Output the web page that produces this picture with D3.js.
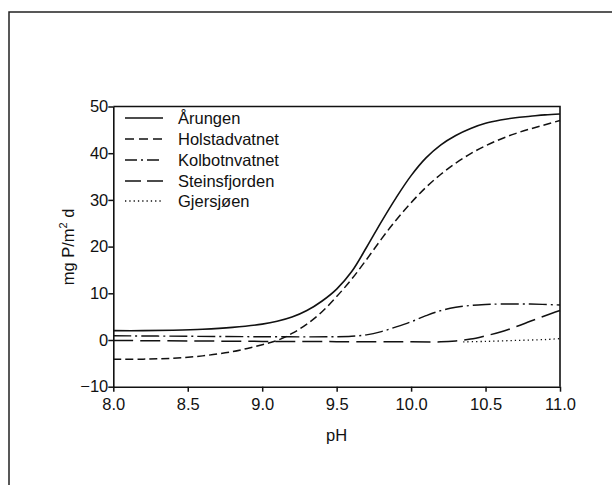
<!DOCTYPE html>
<html><head><meta charset="utf-8">
<script src="https://cdn.jsdelivr.net/npm/d3@7"></script>
<style>
html,body{margin:0;padding:0;background:#fff;}
svg{display:block;font-family:"Liberation Sans",Arial,Helvetica,sans-serif;}
</style></head>
<body>
<svg id="chart" width="612" height="485"></svg>
<script>
// ---- data ----
const xTicks = [8.0, 8.5, 9.0, 9.5, 10.0, 10.5, 11.0];
const yTicks = [-10, 0, 10, 20, 30, 40, 50];
const seriesNames = ["Årungen", "Holstadvatnet", "Kolbotnvatnet", "Steinsfjorden", "Gjersjøen"];

const arungenPH  = [8.0, 8.2, 8.4, 8.6, 8.8, 9.0, 9.1, 9.2, 9.3, 9.4, 9.5, 9.6, 9.7, 9.8, 9.9, 10.0, 10.1, 10.2, 10.3, 10.4, 10.5, 10.6, 10.7, 10.8, 10.9, 11.0];
const arungenVal = [2.0, 2.0, 2.1, 2.3, 2.7, 3.4, 4.0, 4.9, 6.3, 8.3, 10.9, 14.6, 19.8, 25.3, 30.5, 35.2, 39.0, 41.8, 43.8, 45.3, 46.4, 47.1, 47.6, 47.9, 48.2, 48.4];

const holstadPH  = [8.0, 8.2, 8.4, 8.6, 8.8, 8.9, 9.0, 9.1, 9.2, 9.3, 9.4, 9.5, 9.6, 9.7, 9.8, 9.9, 10.0, 10.1, 10.2, 10.3, 10.4, 10.5, 10.6, 10.7, 10.8, 10.9, 11.0];
const holstadVal = [-4.1, -4.1, -3.9, -3.4, -2.5, -1.8, -1.0, -0.1, 1.4, 3.4, 6.0, 9.3, 13.0, 17.2, 21.6, 25.7, 29.4, 32.7, 35.5, 37.9, 39.9, 41.6, 43.0, 44.2, 45.2, 46.1, 47.0];

const kolbotnPH  = [8.0, 8.5, 9.0, 9.5, 9.6, 9.7, 9.8, 9.9, 10.0, 10.1, 10.2, 10.3, 10.4, 10.5, 10.6, 10.8, 11.0];
const kolbotnVal = [0.9, 0.8, 0.7, 0.7, 0.8, 1.1, 1.8, 2.8, 3.9, 5.2, 6.3, 7.0, 7.4, 7.6, 7.7, 7.7, 7.5];

const steinsPH  = [8.0, 8.5, 9.0, 9.5, 10.0, 10.2, 10.3, 10.4, 10.5, 10.6, 10.7, 10.8, 10.9, 11.0];
const steinsVal = [-0.1, -0.2, -0.3, -0.35, -0.4, -0.4, -0.2, 0.2, 0.9, 1.7, 2.8, 4.0, 5.2, 6.3];

const gjersPH  = [10.35, 10.5, 10.7, 10.9, 11.0];
const gjersVal = [-0.4, -0.3, -0.1, 0.1, 0.3];

// ---- layout ----
const svg = d3.select("#chart");
const x = d3.scaleLinear().domain([8, 11]).range([113.3, 560]);
const y = d3.scaleLinear().domain([-10, 50]).range([386.7, 106.5]);

const styles = [
  {dash: null, w: 1.6},
  {dash: "8,4", w: 1.5},
  {dash: "18,4,2,4", w: 1.4},
  {dash: "20,7", w: 1.5},
  {dash: "1.3,3", w: 1.3}
];
const legendDash = [null, "9,5", "12,4,2,4", "16,6", "1.3,3"];

// outer frame (top and left edges)
svg.append("path").attr("d", "M9,485 L9,12 L612,12").attr("fill","none").attr("stroke","#222").attr("stroke-width",1.5);

// plot box top and right
svg.append("path")
  .attr("d", `M${x(8)},${y(50)} L${x(11)},${y(50)} L${x(11)},${y(-10)}`)
  .attr("fill","none").attr("stroke","#111").attr("stroke-width",1.6);

// axes
const fs = 16.5;
const xAxis = d3.axisBottom(x).tickValues(xTicks).tickFormat(d3.format(".1f")).tickSize(5).tickSizeOuter(0);
const gx = svg.append("g").attr("transform", `translate(0,${y(-10)})`).call(xAxis);
gx.select(".domain").attr("stroke","#111").attr("stroke-width",1.6);
gx.selectAll(".tick line").attr("stroke","#111").attr("stroke-width",1.5);
gx.selectAll(".tick text").attr("font-size", fs).attr("fill","#111").attr("dy","0.95em").attr("font-family","Liberation Sans, Arial, sans-serif");

const yAxis = d3.axisLeft(y).tickValues(yTicks).tickFormat(d => d < 0 ? "\u2212" + Math.abs(d) : d).tickSize(5).tickSizeOuter(0);
const gy = svg.append("g").attr("transform", `translate(${x(8)},0)`).call(yAxis);
gy.select(".domain").attr("stroke","#111").attr("stroke-width",1.6);
gy.selectAll(".tick line").attr("stroke","#111").attr("stroke-width",1.5);
gy.selectAll(".tick text").attr("font-size", fs).attr("fill","#111").attr("x", -5).attr("font-family","Liberation Sans, Arial, sans-serif");

// axis titles
svg.append("text").attr("x", (x(8)+x(11))/2).attr("y", 441).attr("text-anchor","middle")
  .attr("font-size", fs).attr("fill","#111").text("pH");
const yl = svg.append("text").attr("transform", `translate(74,247) rotate(-90)`).attr("text-anchor","middle")
  .attr("font-size", fs).attr("fill","#111");
yl.append("tspan").text("mg P/m");
yl.append("tspan").attr("font-size", 11).attr("dy", -7).text("2");
yl.append("tspan").attr("dy", 7).text(" d");

// curves
const series = [
  [arungenPH, arungenVal],
  [holstadPH, holstadVal],
  [kolbotnPH, kolbotnVal],
  [steinsPH, steinsVal],
  [gjersPH, gjersVal]
];
const line = d3.line().x(d => x(d[0])).y(d => y(d[1])).curve(d3.curveCatmullRom.alpha(0.5));
series.forEach((s, i) => {
  const pts = s[0].map((p, j) => [p, s[1][j]]);
  svg.append("path").datum(pts).attr("d", line)
    .attr("fill","none").attr("stroke","#111")
    .attr("stroke-width", styles[i].w)
    .attr("stroke-dasharray", styles[i].dash);
});

// legend
const legY = [118, 139, 160, 181, 201];
seriesNames.forEach((n, i) => {
  svg.append("line").attr("x1",125).attr("x2",163).attr("y1",legY[i]).attr("y2",legY[i])
    .attr("stroke","#111").attr("stroke-width",1.6).attr("stroke-dasharray", legendDash[i]);
  svg.append("text").attr("x",178).attr("y",legY[i]).attr("dy","0.36em")
    .attr("font-size", fs).attr("fill","#111").text(n);
});
</script>
</body></html>
